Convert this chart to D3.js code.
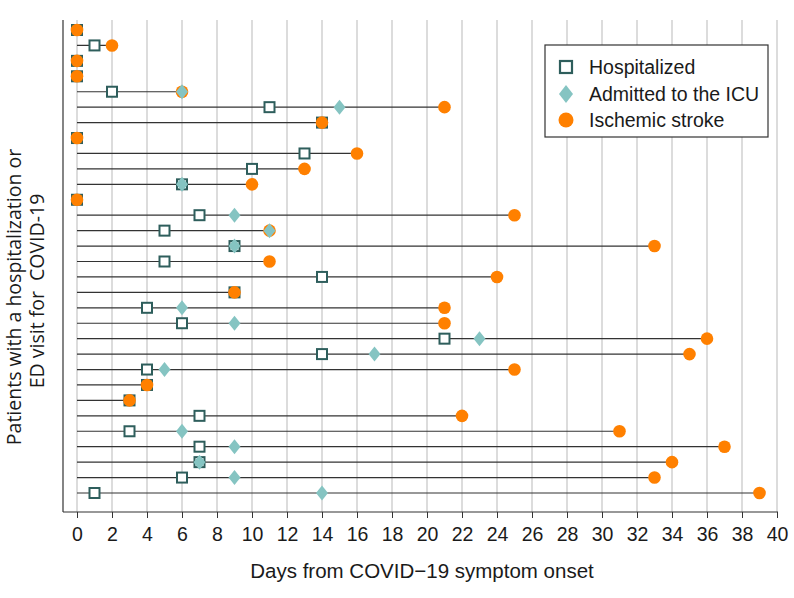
<!DOCTYPE html>
<html>
<head>
<meta charset="utf-8">
<script src="https://cdn.jsdelivr.net/npm/d3@7"></script>
<style>
body { margin: 0; background: #fff; }
text { font-family: "Liberation Sans", Arial, sans-serif; fill: #1a1a1a; }
text.ytitle { font-family: "Open Sans", sans-serif; }
</style>
</head>
<body>
<div id="chart"></div>
<script>
// one entry per patient, top to bottom (days from symptom onset)
var hospitalized = [0, 1, 0, 0, 2, 11, 14, 0, 13, 10, 6, 0, 7, 5, 9, 5, 14, 9, 4, 6, 21, 14, 4, 4, 3, 7, 3, 7, 7, 6, 1];
var icu = [null, null, null, null, 6, 15, null, null, null, null, 6, null, 9, 11, 9, null, null, null, 6, 9, 23, 17, 5, null, null, null, 6, 9, 7, 9, 14];
var stroke = [0, 2, 0, 0, 6, 21, 14, 0, 16, 13, 10, 0, 25, 11, 33, 11, 24, 9, 21, 21, 36, 35, 25, 4, 3, 22, 31, 37, 34, 33, 39];
var xTicks = d3.range(0, 41, 2);
var legendLabels = ["Hospitalized", "Admitted to the ICU", "Ischemic stroke"];

var svgWidth = 794;
var svgHeight = 598;

var colHosp = "#2e5e5c";
var colIcu = "#85c4c2";
var colStroke = "#ff8000";

var patients = stroke.map(function(s, i) {
    return { id: i, hosp: hospitalized[i], icu: icu[i], stroke: s };
});

var svg = d3.select("#chart")
    .append("svg")
    .attr("width", svgWidth)
    .attr("height", svgHeight);

var xScale = d3.scaleLinear()
    .domain([0, 40])
    .range([77, 777]);

var yScale = d3.scalePoint()
    .domain(d3.range(patients.length))
    .range([30, 493]);

var plotTop = 20, plotBottom = 512, plotLeft = 63;

// vertical gridlines
svg.append("g")
    .selectAll("line")
    .data(xTicks)
    .enter()
    .append("line")
    .attr("x1", d => xScale(d))
    .attr("x2", d => xScale(d))
    .attr("y1", plotTop)
    .attr("y2", plotBottom)
    .attr("stroke", "#dcdcdc")
    .attr("stroke-width", 2);

// bottom axis
var bottomAxis = d3.axisBottom(xScale)
    .tickValues(xTicks)
    .tickSize(6)
    .tickPadding(9);

var xAxisG = svg.append("g")
    .attr("transform", `translate(0, ${plotBottom})`)
    .call(bottomAxis);
xAxisG.select(".domain").remove();
xAxisG.selectAll(".tick line").attr("stroke", "#333");
xAxisG.selectAll("text")
    .attr("font-size", 19.5)
    .attr("font-family", null)
    .attr("fill", "#1a1a1a");

svg.append("line")
    .attr("x1", plotLeft).attr("x2", xScale(40) + 1)
    .attr("y1", plotBottom).attr("y2", plotBottom)
    .attr("stroke", "#333").attr("stroke-width", 1.2);

svg.append("line")
    .attr("x1", plotLeft).attr("x2", plotLeft)
    .attr("y1", plotTop).attr("y2", plotBottom)
    .attr("stroke", "#333").attr("stroke-width", 1.2);

// patient lines
svg.append("g")
    .selectAll("line")
    .data(patients.filter(d => d.stroke > 0))
    .enter()
    .append("line")
    .attr("x1", xScale(0))
    .attr("x2", d => xScale(d.stroke))
    .attr("y1", d => yScale(d.id))
    .attr("y2", d => yScale(d.id))
    .attr("stroke", "#333")
    .attr("stroke-width", 1.2);

// hospitalized squares
svg.append("g")
    .selectAll("rect")
    .data(patients)
    .enter()
    .append("rect")
    .attr("x", d => xScale(d.hosp) - 5)
    .attr("y", d => yScale(d.id) - 5)
    .attr("width", 10)
    .attr("height", 10)
    .attr("fill", "#fff")
    .attr("stroke", colHosp)
    .attr("stroke-width", 2);

// ischemic stroke circles
svg.append("g")
    .selectAll("circle")
    .data(patients)
    .enter()
    .append("circle")
    .attr("cx", d => xScale(d.stroke))
    .attr("cy", d => yScale(d.id))
    .attr("r", 6.3)
    .attr("fill", colStroke);

// ICU diamonds
function diamond(cx, cy, w, h) {
    return `M${cx},${cy - h / 2}L${cx + w / 2},${cy}L${cx},${cy + h / 2}L${cx - w / 2},${cy}Z`;
}

svg.append("g")
    .selectAll("path")
    .data(patients.filter(d => d.icu !== null))
    .enter()
    .append("path")
    .attr("d", d => diamond(xScale(d.icu), yScale(d.id), 12, 15))
    .attr("fill", colIcu);

// legend
var legend = svg.append("g");
legend.append("rect")
    .attr("x", 545).attr("y", 45)
    .attr("width", 223).attr("height", 92)
    .attr("fill", "#fff")
    .attr("stroke", "#333")
    .attr("stroke-width", 1.2);

var legendY = [67, 94, 120];
legend.append("rect")
    .attr("x", 560).attr("y", legendY[0] - 6)
    .attr("width", 12).attr("height", 12)
    .attr("fill", "#fff").attr("stroke", colHosp).attr("stroke-width", 2.2);
legend.append("path")
    .attr("d", diamond(566, legendY[1], 14, 18))
    .attr("fill", colIcu);
legend.append("circle")
    .attr("cx", 566).attr("cy", legendY[2]).attr("r", 7.5)
    .attr("fill", colStroke);

legend.selectAll("text")
    .data(legendLabels)
    .enter()
    .append("text")
    .attr("x", 589)
    .attr("y", (d, i) => legendY[i])
    .attr("dy", "0.36em")
    .attr("font-size", 19.5)
    .text(d => d);

// axis titles
svg.append("text")
    .attr("x", 422)
    .attr("y", 578)
    .attr("text-anchor", "middle")
    .attr("font-size", 20.5)
    .text("Days from COVID\u221219 symptom onset");

svg.append("text")
    .attr("class", "ytitle")
    .attr("transform", "translate(21, 297) rotate(-90)")
    .attr("text-anchor", "middle")
    .attr("font-size", 19.5)
    .text("Patients with a hospitalization or");

svg.append("text")
    .attr("class", "ytitle")
    .attr("transform", "translate(44, 291) rotate(-90)")
    .attr("text-anchor", "middle")
    .attr("font-size", 19.5)
    .style("white-space", "pre")
    .text("ED visit for  COVID-19");
</script>
</body>
</html>
